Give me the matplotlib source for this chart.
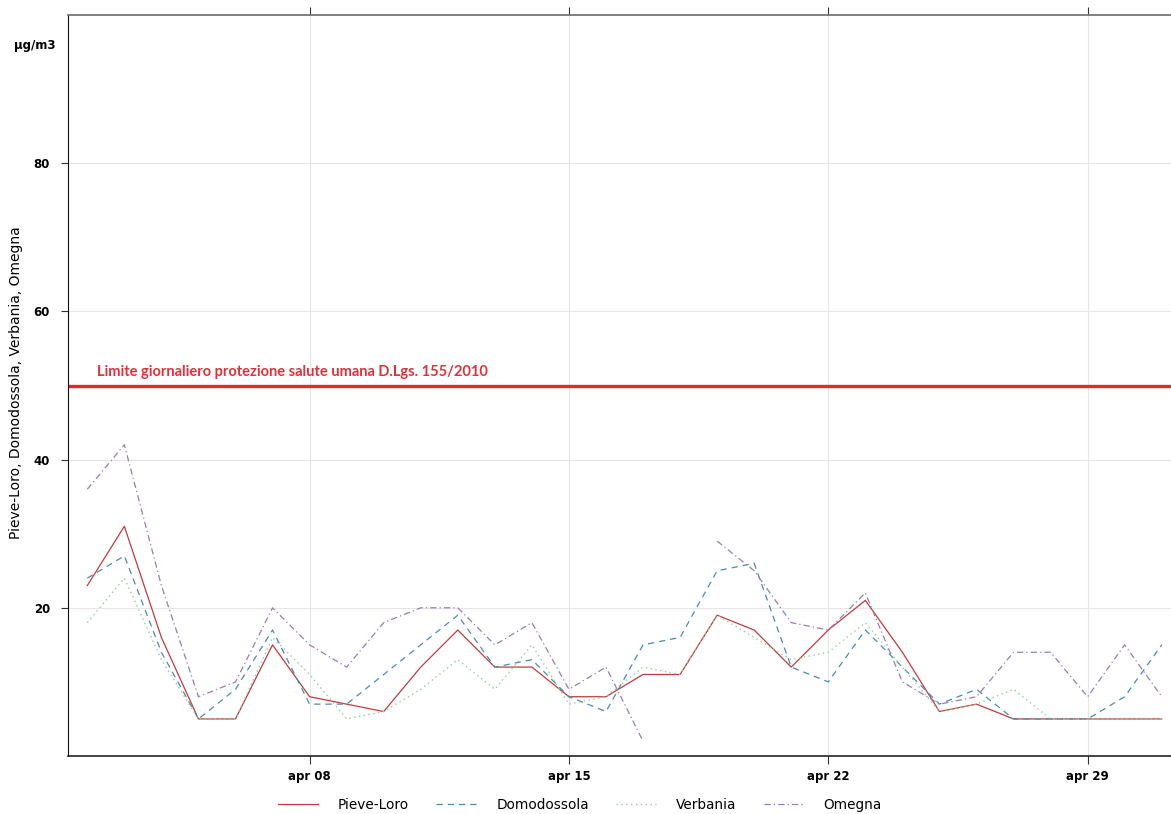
import numpy as np
import pandas as pd
import matplotlib
matplotlib.use("Agg")
import matplotlib.pyplot as plt

# Daily PM10 means, 2 April - 1 May
days = pd.date_range("2023-04-02", periods=30, freq="D")
pieve = [23, 31, 16, 5, 5, 15, 8, 7, 6, 12, 17, 12, 12, 8, 8, 11, 11, 19, 17, 12,
         17, 21, 14, 6, 7, 5, 5, 5, 5, 5]
domo = [24, 27, 14, 5, 9, 17, 7, 7, 11, 15, 19, 12, 13, 8, 6, 15, 16, 25, 26, 12,
        10, 17, 12, 7, 9, 5, 5, 5, 8, 15]
verb = [18, 24, 13, 5, 5, 16, 11, 5, 6, 9, 13, 9, 15, 7, 8, 12, 11, 19, 16, 13,
        14, 18, 12, 6, 7, 9, 5, 5, 5, 5]
omeg = [36, 42, 23, 8, 10, 20, 15, 12, 18, 20, 20, 15, 18, 9, 12, 2, np.nan, 29, 25, 18,
        17, 22, 10, 7, 8, 14, 14, 8, 15, 8]

limit = 50
limit_text = "Limite giornaliero protezione salute umana D.Lgs. 155/2010"
tick_days = pd.to_datetime(["2023-04-08", "2023-04-15", "2023-04-22", "2023-04-29"])
tick_labels = ["apr 08", "apr 15", "apr 22", "apr 29"]
y_ticks = [20, 40, 60, 80]

narrow = ["Liberation Sans Narrow", "DejaVu Sans"]

fig = plt.figure(figsize=(11.71, 8.14), dpi=100)
ax = fig.add_axes([68 / 1171, 1 - 756 / 814, 1 - 68 / 1171, (756 - 15) / 814])

ax.plot(days, pieve, color="#c43a3f", lw=0.9, ls="-", label="Pieve-Loro")
ax.plot(days, domo, color="#4a8db0", lw=0.9, ls=(0, (5, 4)), label="Domodossola")
ax.plot(days, verb, color="#8fcf9c", lw=1.0, ls=(0, (1, 2.5)), label="Verbania")
ax.plot(days, omeg, color="#9c7bb3", lw=0.9, ls=(0, (5, 2.5, 1, 2.5)), label="Omegna")

ax.axhline(limit, color="#e8262b", lw=2.4, zorder=1)
ax.text(days[0] + pd.Timedelta(hours=6), limit + 0.9, limit_text, color="#e0303a",
        fontsize=10.5, fontweight="bold", family=["Lato", "DejaVu Sans"], va="bottom", ha="left")

x0 = days[0] - pd.Timedelta(hours=12.5)
x1 = tick_days[-1] + pd.Timedelta(hours=54)
ax.set_xlim(x0, x1)
ax.set_ylim(0, 100)

ax.set_xticks(tick_days)
ax.set_xticklabels(tick_labels)
ax.set_yticks(y_ticks)
ax.set_yticklabels([str(v) for v in y_ticks])
for lab in ax.get_xticklabels() + ax.get_yticklabels():
    lab.set_family(narrow)
    lab.set_fontweight("bold")
    lab.set_fontsize(8.5)

ax.grid(True, color="#e6e6e6", lw=0.8)
ax.set_axisbelow(True)

ax.tick_params(axis="x", top=True, labeltop=False, direction="out", length=6,
               width=0.8, color="#333333", pad=4)
ax.tick_params(axis="y", direction="out", length=5, width=0.8, color="#333333", pad=8)

ax.spines["right"].set_visible(False)
ax.spines["top"].set_color("#777777")
ax.spines["top"].set_linewidth(1.3)
ax.spines["left"].set_color("#111111")
ax.spines["bottom"].set_color("#111111")
ax.spines["bottom"].set_linewidth(1.1)

fig.text(35 / 1171, 1 - 45 / 814, "µg/m3", fontsize=8.5, fontweight="bold",
         ha="center", va="center")
fig.text(16 / 1171, 1 - 383 / 814, "Pieve-Loro, Domodossola, Verbania, Omegna",
         rotation=90, fontsize=10, family=narrow, ha="center", va="center")

fig.legend(loc="center", bbox_to_anchor=(580 / 1171, 1 - 805 / 814), ncol=4,
           frameon=False, handlelength=2.9, columnspacing=2.0, handletextpad=1.5,
           prop={"family": narrow, "size": 9.8})

fig.savefig("out.png", dpi=100)
